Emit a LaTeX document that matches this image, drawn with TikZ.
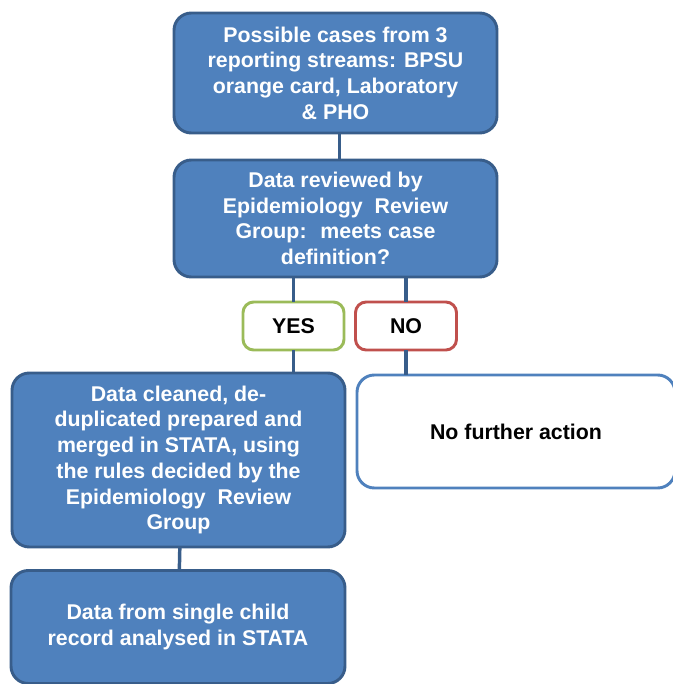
\documentclass[tikz,border=0pt]{standalone}
\usepackage{fontspec}
\setmainfont{Liberation Sans}
\definecolor{boxblue}{HTML}{4F81BD}
\definecolor{edgeblue}{HTML}{385D8A}
\definecolor{yesgreen}{HTML}{9BBB59}
\definecolor{nored}{HTML}{C0504D}
\begin{document}
\begin{tikzpicture}[x=0.75pt, y=-0.75pt,
		every node/.style={align=center, font=\bfseries\fontsize{16pt}{19.3pt}\selectfont, outer sep=0pt, inner sep=0pt},
		stage/.style={draw=edgeblue, fill=boxblue, text=white, line width=2.2pt, rounded corners=13pt},
		answer/.style={draw=#1, fill=white, text=black, line width=2.2pt, rounded corners=8pt, minimum width=101*0.75pt, minimum height=48*0.75pt},
		link/.style={draw=edgeblue, line width=2.6pt}]
		\useasboundingbox (0,0) rectangle (673,684);
		\clip (0,0) rectangle (673,684);
		\node[stage, minimum width=323*0.75pt, minimum height=120*0.75pt] (top) at (335.5,73) {Possible cases from 3\\reporting streams: BPSU\\orange card, Laboratory\\\& PHO};
		\node[stage, minimum width=323*0.75pt, minimum height=117*0.75pt] (review) at (335.5,218.5) {Data reviewed by\\Epidemiology~ Review\\Group:~ meets case\\definition?};
		\node[answer=yesgreen] (yes) at (293.5,326) {YES};
		\node[answer=nored] (no) at (406,326) {NO};
		\node[stage, minimum width=333*0.75pt, minimum height=174*0.75pt] (cleaned) at (178.5,460) {Data cleaned, de-\\duplicated prepared and\\merged in STATA, using\\the rules decided by the\\Epidemiology~ Review\\Group};
		\node[stage, fill=white, text=black, draw=boxblue, minimum width=318*0.75pt, minimum height=113*0.75pt] (noaction) at (516,431.5) {No further action};
		\node[stage, minimum width=334*0.75pt, minimum height=113*0.75pt] (single) at (178,627) {Data from single child\\record analysed in STATA};
		\draw[link] ([xshift=3pt]top.south) -- ([xshift=3pt]review.north);
		\draw[link] (review.south -| yes.north) -- (yes.north);
		\draw[link] (review.south -| no.north) -- (no.north);
		\draw[link] (yes.south) -- (yes.south |- cleaned.north);
		\draw[link] (no.south) -- (no.south |- noaction.north);
		\draw[link] ([xshift=1pt]cleaned.south) -- ([xshift=1pt]single.north);
	\end{tikzpicture}
\end{document}
